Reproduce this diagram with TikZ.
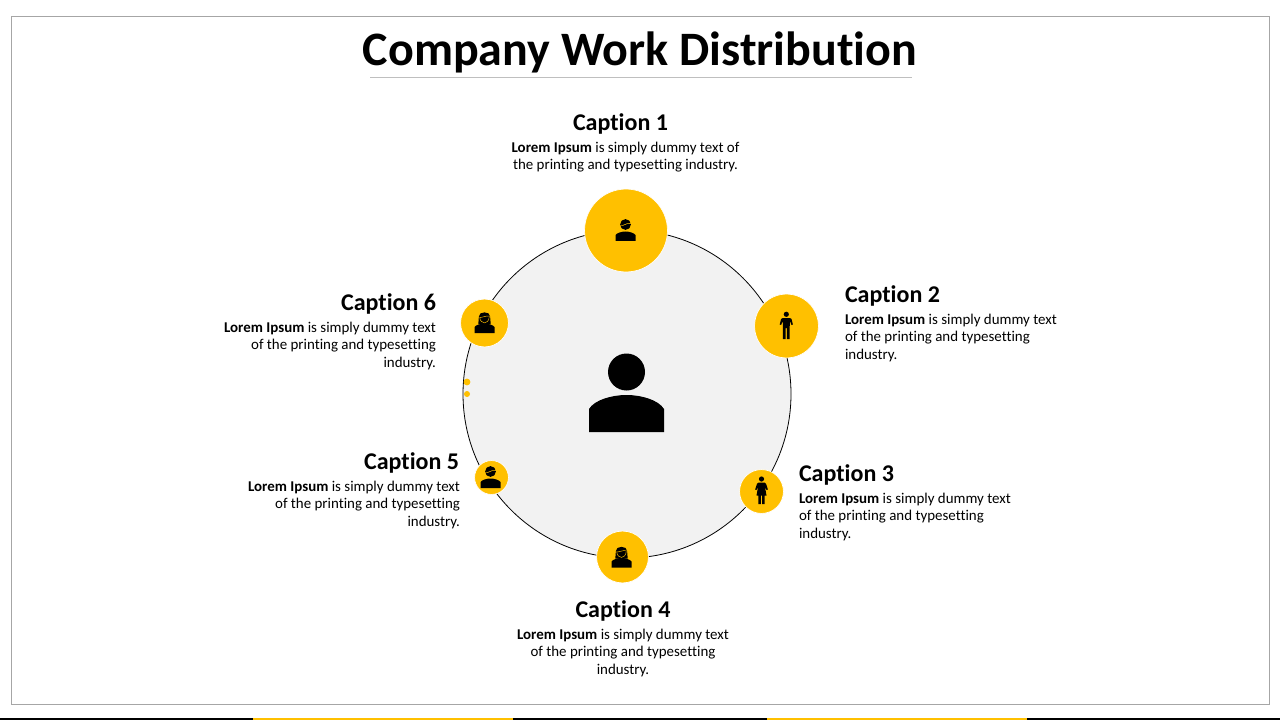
\documentclass[tikz,border=0pt]{standalone}
\usepackage{fontspec}
\setmainfont[Ligatures={NoCommon}]{Carlito}
\definecolor{gold}{HTML}{FFC000}
\definecolor{ringfill}{HTML}{F2F2F2}
\definecolor{framegray}{HTML}{A6A6A6}
\definecolor{rulegray}{HTML}{BFBFBF}
\tikzset{
  x=0.75pt,y=-0.75pt,
  badge/.style={circle,fill=gold,draw=white,line width=0.5pt,inner sep=0pt,outer sep=0pt},
  captxt/.style={font=\fontsize{18}{22}\selectfont\bfseries,inner sep=0pt,outer sep=0pt,text=black},
  bodytxt/.style={font=\fontsize{11.2}{13.1}\selectfont,inner sep=0pt,outer sep=0pt,text=black},
  bust/.pic={
    \fill[black] (0,-20) circle (18.5);
    \fill[black] (-37.5,40) -- (-37.5,17) .. controls (-32,8) and (-15,3) .. (0,3)
      .. controls (15,3) and (32,8) .. (37.5,17) -- (37.5,40) -- cycle;
  },
  manhair/.pic={
    \fill[black] (0,-6) circle (5.4);
    \draw[gold,line width=0.4pt] (-5,-5.5) .. controls (-2,-3.5) and (0,-8) .. (5,-7);
  },
  bustsmall/.pic={
    \fill[black] (-10,10.5) -- (-10,4.5) .. controls (-8.5,2.5) and (-4,1) .. (0,1)
      .. controls (4,1) and (8.5,2.5) .. (10,4.5) -- (10,10.5) -- cycle;
  },
  womanhair/.pic={
    \fill[black] (-5.6,-6) .. controls (-6,-11.5) and (6,-11.5) .. (5.6,-6) -- (6.2,1.5) -- (-6.2,1.5) -- cycle;
    \draw[gold,line width=0.35pt] (-4.8,-5) .. controls (-2,-5) and (2,-7) .. (4.8,-6.5)
      (-4.8,-5.5) .. controls (-4.8,-1.5) and (-2,0.4) .. (0,0.4) .. controls (2,0.4) and (4.8,-1.5) .. (4.8,-6.5);
  },
  manfig/.pic={
    \fill[black] (0,-11.7) circle (2.6);
    \fill[black] (-3.6,-8) -- (3.6,-8) .. controls (4.6,-8) and (5,-7.5) .. (5.2,-7) -- (6.6,-1.5) -- (5.2,-1) -- (3.6,-5) -- (3.4,1)
      -- (3.4,13) -- (0.6,13) -- (0.6,2) -- (-0.6,2) -- (-0.6,13) -- (-3.4,13) -- (-3.4,1) -- (-3.6,-5) -- (-5.2,-1) -- (-6.6,-1.5) -- (-5.2,-7) .. controls (-5,-7.5) and (-4.6,-8) .. (-3.6,-8) -- cycle;
  },
  womanfig/.pic={
    \fill[black] (0,-12) circle (2.6);
    \fill[black] (-3,-8.5) -- (3,-8.5) .. controls (4,-8.5) and (4.3,-8) .. (4.6,-7) -- (6.4,-1.5) -- (5,-1) -- (3.4,-4.5) -- (5,4.5) -- (3.2,4.5) -- (3.2,13) -- (0.6,13) -- (0.6,4.5) -- (-0.6,4.5) -- (-0.6,13) -- (-3.2,13) -- (-3.2,4.5) -- (-5,4.5) -- (-3.4,-4.5) -- (-5,-1) -- (-6.4,-1.5) -- (-4.6,-7) .. controls (-4.3,-8) and (-4,-8.5) .. (-3,-8.5) -- cycle;
  }
}
\newcommand{\lorem}{\textbf{Lorem Ipsum} is simply dummy text}
\begin{document}
\begin{tikzpicture}
\useasboundingbox (0,0) rectangle (1280,720);
\fill[white] (0,0) rectangle (1280,720);
% frame and title
\draw[framegray,line width=0.75pt] (11.5,16.5) rectangle (1269.5,704.5);
\node[font=\fontsize{36}{42}\selectfont\bfseries,inner sep=0pt,text=black] (title) at (640,52.5) {Company Work Distribution};
\draw[rulegray,line width=0.75pt] (370,78) -- (912,78);
% footer bar
\fill[black] (0,718) rectangle (253,720);
\fill[gold] (253,718) rectangle (513,720);
\fill[black] (513,718) rectangle (767,720);
\fill[gold] (767,718) rectangle (1027,720);
\fill[black] (1027,718) rectangle (1280,720);
% ring
\node[circle,fill=ringfill,draw=black,line width=0.6pt,minimum size=246pt,inner sep=0pt] (ring) at (627,394) {};
\fill[gold] (467,382) circle (3.4);
\fill[gold] (467,394) circle (3);
\pic at (626.5,392) {bust};
% badges
\node[badge,minimum size=62.2pt] (b1) at (626,230.5) {};
\node[badge,minimum size=47.9pt] (b2) at (786.5,326) {};
\node[badge,minimum size=32.9pt] (b3) at (761.5,491.5) {};
\node[badge,minimum size=38.9pt] (b4) at (622.5,557) {};
\node[badge,minimum size=25.4pt] (b5) at (491.5,477.5) {};
\node[badge,minimum size=35.9pt] (b6) at (484.5,323) {};
% icons
\pic at (625.5,230.5) {bustsmall};
\pic at (625.5,230.5) {manhair};
\pic at (786.3,326) {manfig};
\pic at (761.5,491) {womanfig};
\pic at (621.5,557) {womanhair};
\pic at (621.5,557) {bustsmall};
\pic at (490.5,477.5) {bustsmall};
\pic at (490.5,477.5) {manhair};
\pic at (484.5,322.5) {womanhair};
\pic at (484.5,322.5) {bustsmall};
% texts
\node[captxt] (c1) at (620.5,123.5) {Caption 1};
\node[bodytxt,align=center] (t1) at (625.5,157) {\lorem{} of\\the printing and typesetting industry.};
\node[captxt,anchor=west] (c2) at (845,295.5) {Caption 2};
\node[bodytxt,align=left,anchor=west] (t2) at (845,338) {\lorem\\of the printing and typesetting\\industry.};
\node[captxt,anchor=west] (c3) at (799,474.5) {Caption 3};
\node[bodytxt,align=left,anchor=west] (t3) at (799,517) {\lorem\\of the printing and typesetting\\industry.};
\node[captxt] (c4) at (623,610.5) {Caption 4};
\node[bodytxt,align=center] (t4) at (623,653) {\lorem\\of the printing and typesetting\\industry.};
\node[captxt,anchor=east] (c5) at (459,462.5) {Caption 5};
\node[bodytxt,align=right,anchor=east] (t5) at (460,505) {\lorem\\of the printing and typesetting\\industry.};
\node[captxt,anchor=east] (c6) at (436,303.5) {Caption 6};
\node[bodytxt,align=right,anchor=east] (t6) at (436,346) {\lorem\\of the printing and typesetting\\industry.};
\end{tikzpicture}
\end{document}
